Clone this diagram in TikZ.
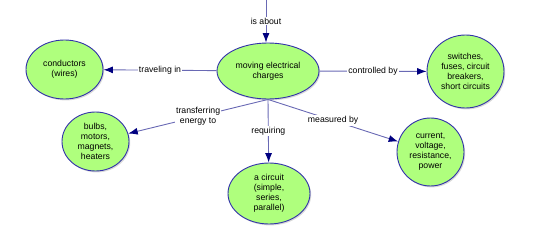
\documentclass[tikz,border=0pt]{standalone}
\usepackage{fontspec}
\setmainfont{Liberation Sans}
\usetikzlibrary{arrows.meta,shapes.geometric,shadows}
\definecolor{conceptfill}{RGB}{175,255,125}
\definecolor{conceptline}{RGB}{50,50,170}
\definecolor{linkline}{RGB}{105,105,180}
\definecolor{tipnavy}{RGB}{0,0,128}

\begin{document}
\begin{tikzpicture}[
  x=1pt, y=-1pt,
  concept/.style={
    ellipse,
    draw=conceptline,
    line width=0.9pt,
    fill=conceptfill,
    align=center,
    inner sep=0pt,
    font=\fontsize{8.7}{10}\selectfont,
    drop shadow={shadow xshift=1.2pt, shadow yshift=-1.4pt, opacity=0.3}
  },
  link/.style={draw=linkline, line width=0.9pt,
    -{Latex[color=tipnavy, length=9.5pt, width=7pt]}},
  linklabel/.style={fill=white, inner sep=1pt, align=center,
    font=\fontsize{8.7}{10}\selectfont}
]
\useasboundingbox (0,0) rectangle (547,233);

\node[concept, minimum width=102pt, minimum height=56pt] (charges) at (268,71)
  {moving electrical\\charges};

\node[concept, minimum width=77pt, minimum height=59pt] (conductors) at (64.5,69.5)
  {conductors\\(wires)};
\node[concept, minimum width=77pt, minimum height=73pt] (switches) at (465.5,71.5)
  {switches,\\fuses, circuit\\breakers,\\short circuits};

\node[concept, minimum width=67pt, minimum height=59pt] (bulbs) at (95.5,141.5)
  {bulbs,\\motors,\\magnets,\\heaters};
\node[concept, minimum width=82pt, minimum height=61pt] (circuit) at (269,193.5)
  {a circuit\\(simple,\\series,\\parallel)};
\node[concept, minimum width=67pt, minimum height=68pt] (measures) at (430.5,152)
  {current,\\voltage,\\resistance,\\power};

\coordinate (topend) at (266,0);

\draw[link] (topend) -- node[linklabel] {is about} (topend |- charges.north);
\draw[link] (charges) -- node[linklabel] {traveling in} (conductors);
\draw[link] (charges) -- node[linklabel] {controlled by} (switches);
\draw[link] (charges.south) -- node[linklabel] {transferring\\energy to} (bulbs);
\draw[link] (charges.south) -- node[linklabel] {requiring} (circuit);
\draw[link] (charges.south) -- node[linklabel] {measured by} (measures);

\end{tikzpicture}
\end{document}
